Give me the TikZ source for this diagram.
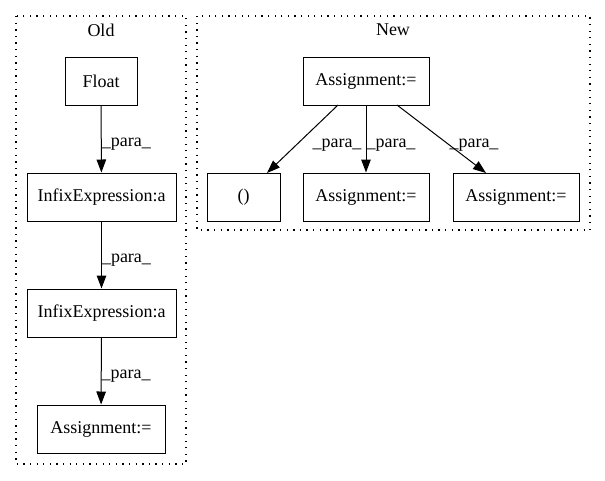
\documentclass[tikz,border=0pt]{standalone}
\usepackage{fontspec}
\setmainfont{Liberation Serif}
\usetikzlibrary{arrows.meta}
\begin{document}
\begin{tikzpicture}[x=1pt,y=-1pt,
  box/.style={draw,line width=1pt,minimum height=48pt,inner sep=0pt,font=\fontsize{18}{21}\selectfont},
  edge/.style={line width=1pt,-{Triangle[length=13pt,width=9.5pt]}},
  lbl/.style={font=\fontsize{18}{21}\selectfont,inner sep=0pt},
  cluster/.style={draw,line width=1.2pt,dash pattern=on 1.3pt off 5.3pt}]
\useasboundingbox (0,0) rectangle (605,480);
% clusters
\draw[cluster] (16,16) rectangle (186,464);
\draw[cluster] (197,16) rectangle (590,230);
\node[lbl] (oldl) at (101,30) {Old};
\node[lbl] (newl) at (393,30) {New};
% Old nodes
\node[box,minimum width=72pt] (float) at (101,81) {Float};
\node[box,minimum width=149pt] (inf1) at (101.5,197) {InfixExpression:a};
\node[box,minimum width=149pt] (inf2) at (101.5,313) {InfixExpression:a};
\node[box,minimum width=128pt] (asold) at (101,429) {Assignment:=};
\draw[edge] (float) -- (inf1) node[lbl,pos=0.58,right=0pt] {\_para\_};
\draw[edge] (inf1) -- (inf2) node[lbl,pos=0.58,right=0pt] {\_para\_};
\draw[edge] (inf2) -- (asold) node[lbl,pos=0.58,right=0pt] {\_para\_};
% New nodes
\node[box,minimum width=126pt] (atop) at (366,81) {Assignment:=};
\node[box,minimum width=73pt] (paren) at (243.5,197) {()};
\node[box,minimum width=126pt] (amid) at (366,197) {Assignment:=};
\node[box,minimum width=126pt] (aright) at (516,197) {Assignment:=};
\coordinate (s1) at (338,105);
\coordinate (t1) at (267,173);
\coordinate (s3) at (397,105);
\coordinate (t3) at (486,173);
\draw[edge] (s1) -- (t1);
\draw[edge] (atop) -- (amid);
\draw[edge] (s3) -- (t3);
\node[lbl] (l1) at (337,145) {\_para\_};
\node[lbl] (l2) at (391,145) {\_para\_};
\node[lbl] (l3) at (474,145) {\_para\_};
\end{tikzpicture}
\end{document}
